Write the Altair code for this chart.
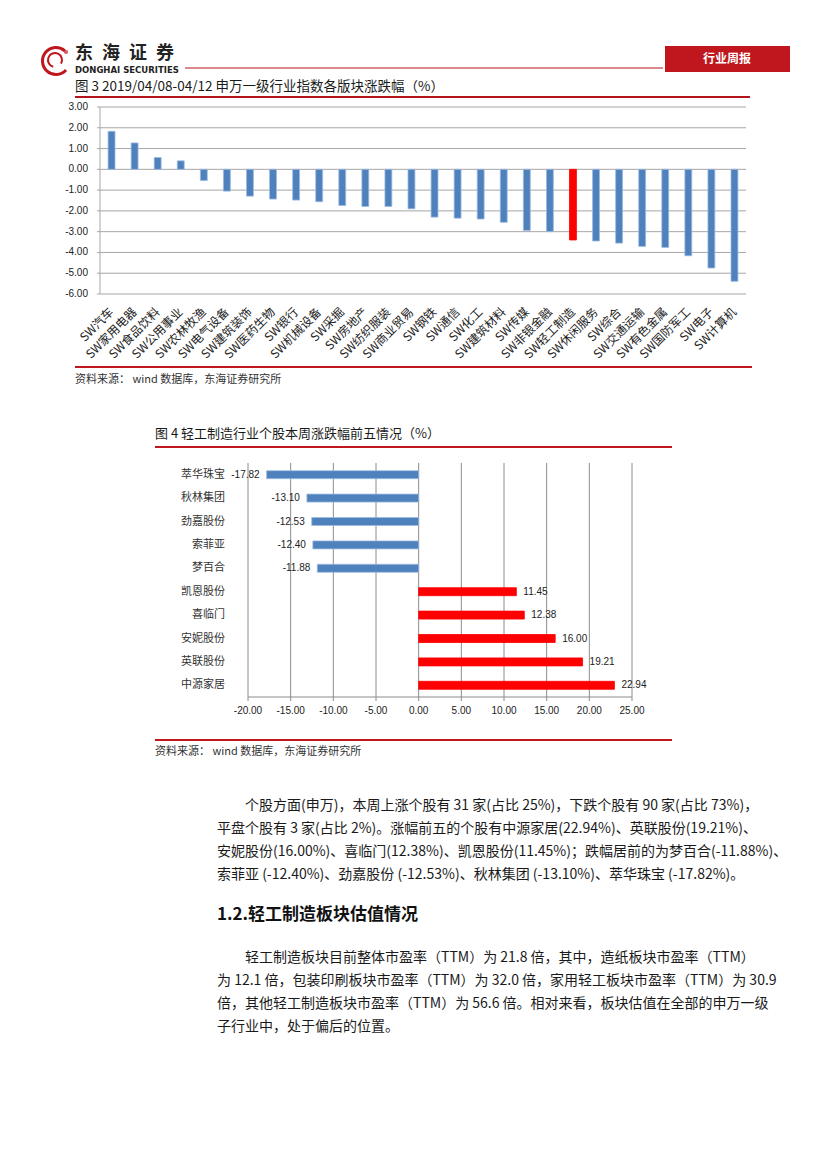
import altair as alt
import pandas as pd

CJK = "Noto Sans CJK SC"
LAT = "Liberation Sans"
BLUE = "#4f81bd"
BLUE_EDGE = "#9dbbe0"
RED = "#ff0000"
DARKRED = "#b3141b"
TXT = "#1a1a1a"
GRID1 = "#a6a6a6"
GRID2 = "#8c8c8c"

# ---------------- data ----------------
industries = ["SW汽车", "SW家用电器", "SW食品饮料", "SW公用事业", "SW农林牧渔", "SW电气设备",
              "SW建筑装饰", "SW医药生物", "SW银行", "SW机械设备", "SW采掘", "SW房地产",
              "SW纺织服装", "SW商业贸易", "SW钢铁", "SW通信", "SW化工", "SW建筑材料",
              "SW传媒", "SW非银金融", "SW轻工制造", "SW休闲服务", "SW综合", "SW交通运输",
              "SW有色金属", "SW国防军工", "SW电子", "SW计算机"]
industry_chg = [1.83, 1.27, 0.57, 0.41, -0.54, -1.05, -1.29, -1.43, -1.48, -1.56, -1.74, -1.79,
                -1.79, -1.90, -2.30, -2.35, -2.39, -2.55, -2.94, -3.00, -3.40, -3.45, -3.55,
                -3.71, -3.76, -4.16, -4.75, -5.39]
highlight_industry = "SW轻工制造"
y_ticks1 = [3, 2, 1, 0, -1, -2, -3, -4, -5, -6]

stocks = ["萃华珠宝", "秋林集团", "劲嘉股份", "索菲亚", "梦百合",
          "凯恩股份", "喜临门", "安妮股份", "英联股份", "中源家居"]
stock_chg = [-17.82, -13.10, -12.53, -12.40, -11.88, 11.45, 12.38, 16.00, 19.21, 22.94]
x_ticks2 = [-20, -15, -10, -5, 0, 5, 10, 15, 20, 25]

brand_cn = "东\u2002海\u2002证\u2002券"
brand_en = "DONGHAI SECURITIES"
badge = "行业周报"
caption3 = "图 3   2019/04/08-04/12 申万一级行业指数各版块涨跌幅（%）"
caption4 = "图 4    轻工制造行业个股本周涨跌幅前五情况（%）"
source_txt = "资料来源：   wind 数据库，东海证券研究所"
para1 = [
    "个股方面(申万)，本周上涨个股有 31 家(占比 25%)，下跌个股有 90 家(占比 73%)，",
    "平盘个股有 3 家(占比 2%)。涨幅前五的个股有中源家居(22.94%)、英联股份(19.21%)、",
    "安妮股份(16.00%)、喜临门(12.38%)、凯恩股份(11.45%)；跌幅居前的为梦百合(-11.88%)、",
    "索菲亚 (-12.40%)、劲嘉股份 (-12.53%)、秋林集团 (-13.10%)、萃华珠宝 (-17.82%)。",
]
heading = "1.2.轻工制造板块估值情况"
para2 = [
    "轻工制造板块目前整体市盈率（TTM）为 21.8 倍，其中，造纸板块市盈率（TTM）",
    "为 12.1 倍，包装印刷板块市盈率（TTM）为 32.0 倍，家用轻工板块市盈率（TTM）为 30.9",
    "倍，其他轻工制造板块市盈率（TTM）为 56.6 倍。相对来看，板块估值在全部的申万一级",
    "子行业中，处于偏后的位置。",
]

PAGE_W = 795
one = alt.Data(values=[{"k": 1}])


def txt(s, x, y, size=12, font=CJK, color=TXT, weight="normal", align="left",
        baseline="middle", **kw):
    return alt.Chart(one).mark_text(text=s, font=font, fontSize=size, color=color,
                                    fontWeight=weight, align=align, baseline=baseline,
                                    **kw).encode(x=alt.value(x), y=alt.value(y))


def hline(x1, x2, y, color=DARKRED, width=1.0):
    return alt.Chart(one).mark_rule(color=color, strokeWidth=width).encode(
        x=alt.value(x1), x2=alt.value(x2), y=alt.value(y))


def paragraph(lines, x, y0, indent=28, lh=23, size=14):
    out = []
    for i, s in enumerate(lines):
        out.append(txt(s, x + (indent if i == 0 else 0), y0 + i * lh, size=size))
    return out


# ---------------- panel A: header ----------------
logo_outer = alt.Chart(one).mark_arc(color="#c0161d", radius=15, radius2=12,
                                     theta=2.3, theta2=7.0).encode(
    x=alt.value(48), y=alt.value(53))
logo_inner = alt.Chart(one).mark_arc(color="#c0161d", radius=8, radius2=6,
                                     theta=3.4, theta2=8.4).encode(
    x=alt.value(47), y=alt.value(52))
logo_tail = alt.Chart(one).mark_point(shape="circle", filled=True, color="#c0161d",
                                      size=18).encode(x=alt.value(58), y=alt.value(44))
badge_box = alt.Chart(one).mark_rect(color="#c0161d").encode(
    x=alt.value(657), x2=alt.value(782), y=alt.value(38), y2=alt.value(64))
panelA = alt.layer(
    logo_outer, logo_inner, logo_tail,
    txt(brand_cn, 67, 46, size=18, weight="bold", color="#222222"),
    txt(brand_en, 67, 62, size=8.5, font="DejaVu Sans", weight="bold", color="#222222"),
    hline(177, 655, 60, color=DARKRED, width=1),
    badge_box,
    txt(badge, 719, 51, size=12, weight="bold", color="white", align="center"),
    txt(caption3, 67, 79, size=13.5),
    hline(67, 742, 89, color=DARKRED, width=2),
).properties(width=PAGE_W, height=99)

# ---------------- panel B: chart 1 (plot at x 92..738, height 187) ----------------
df1 = pd.DataFrame({"industry": industries, "chg": industry_chg})
df1["kind"] = ["hl" if i == highlight_industry else "normal" for i in industries]
dft1 = pd.DataFrame({"v": y_ticks1, "lbl": [f"{v:.2f}" for v in y_ticks1]})

xs1 = alt.Scale(domain=industries, range=[92, 738], paddingInner=0.7, paddingOuter=0.35)
ys1 = alt.Scale(domain=[-6, 3], nice=False, zero=False)

grid1 = alt.Chart(dft1).mark_rule(color=GRID1, strokeWidth=1).encode(
    y=alt.Y("v:Q", scale=ys1, axis=None), x=alt.value(89), x2=alt.value(738))
yaxis1 = alt.Chart(one).mark_rule(color=GRID1, strokeWidth=1).encode(
    x=alt.value(92), y=alt.value(0), y2=alt.value(187))
ylab1 = alt.Chart(dft1).mark_text(align="right", baseline="middle", font=LAT, fontSize=10,
                                  color="#222222").encode(
    y=alt.Y("v:Q", scale=ys1, axis=None), x=alt.value(80), text="lbl:N")
bars1 = alt.Chart(df1).mark_bar(strokeWidth=0.8).encode(
    x=alt.X("industry:N", scale=xs1, axis=None),
    y=alt.Y("chg:Q", scale=ys1, axis=None),
    color=alt.Color("kind:N", scale=alt.Scale(domain=["normal", "hl"], range=[BLUE, RED]),
                    legend=None),
    stroke=alt.Stroke("kind:N", scale=alt.Scale(domain=["normal", "hl"],
                                                range=[BLUE_EDGE, RED]), legend=None),
)
xlab1 = alt.Chart(df1).mark_text(angle=315, align="right", baseline="middle", font=CJK,
                                 fontSize=12, color="#222222").encode(
    x=alt.X("industry:N", scale=xs1, axis=None), y=alt.value(203), text="industry:N")
panelB = alt.layer(grid1, yaxis1, ylab1, bars1, xlab1).properties(width=PAGE_W, height=187)

# ---------------- panel C: source 1 + caption 4 ----------------
panelC = alt.layer(
    hline(67, 744, 73, color="#c0161d", width=2),
    txt(source_txt, 67, 86, size=11, color="#333333"),
    txt(caption4, 147, 140, size=13),
    hline(147, 664, 153, color="#c0161d", width=2),
).properties(width=PAGE_W, height=169)

# ---------------- panel D: chart 2 (plot at x 240..624, height 234) ----------------
df2 = pd.DataFrame({"stock": stocks, "chg": stock_chg})
df2["sign"] = ["neg" if v < 0 else "pos" for v in stock_chg]
df2["label"] = [f"{v:.2f}" for v in stock_chg]
dft2 = pd.DataFrame({"v": x_ticks2, "lbl": [f"{v:.2f}" for v in x_ticks2]})

xs2 = alt.Scale(domain=[-20, 25], range=[240, 624], nice=False, zero=False)
ys2 = alt.Scale(domain=stocks)

grid2 = alt.Chart(dft2).mark_rule(color=GRID2, strokeWidth=1).encode(
    x=alt.X("v:Q", scale=xs2, axis=None), y=alt.value(0), y2=alt.value(238))
xaxis2 = alt.Chart(one).mark_rule(color=GRID2, strokeWidth=1).encode(
    x=alt.value(240), x2=alt.value(624), y=alt.value(234))
xlab2 = alt.Chart(dft2).mark_text(align="center", baseline="middle", font=LAT, fontSize=10,
                                  color="#222222").encode(
    x=alt.X("v:Q", scale=xs2, axis=None), y=alt.value(248), text="lbl:N")
ylab2 = alt.Chart(df2).mark_text(align="right", baseline="middle", font=CJK, fontSize=11,
                                 color="#333333").encode(
    y=alt.Y("stock:N", scale=ys2, axis=None), x=alt.value(217), text="stock:N")
bars2 = alt.Chart(df2).mark_bar(size=8, strokeWidth=0.8).encode(
    y=alt.Y("stock:N", scale=ys2, axis=None),
    x=alt.X("chg:Q", scale=xs2, axis=None),
    x2=alt.datum(0),
    color=alt.Color("sign:N", scale=alt.Scale(domain=["neg", "pos"], range=[BLUE, RED]),
                    legend=None),
    stroke=alt.Stroke("sign:N", scale=alt.Scale(domain=["neg", "pos"],
                                                range=[BLUE_EDGE, RED]), legend=None),
)
neg_lbl = alt.Chart(df2).transform_filter("datum.chg < 0").mark_text(
    align="right", baseline="middle", dx=-7, font=LAT, fontSize=10, color="#222222").encode(
    y=alt.Y("stock:N", scale=ys2, axis=None), x=alt.X("chg:Q", scale=xs2, axis=None),
    text="label:N")
pos_lbl = alt.Chart(df2).transform_filter("datum.chg >= 0").mark_text(
    align="left", baseline="middle", dx=7, font=LAT, fontSize=10, color="#222222").encode(
    y=alt.Y("stock:N", scale=ys2, axis=None), x=alt.X("chg:Q", scale=xs2, axis=None),
    text="label:N")
panelD = alt.layer(grid2, xaxis2, xlab2, ylab2, bars2, neg_lbl, pos_lbl).properties(
    width=PAGE_W, height=234)

# ---------------- panel E: source 2 + text ----------------
panelE = alt.layer(
    hline(147, 664, 43, color="#c0161d", width=2),
    txt(source_txt, 147, 55, size=11, color="#333333"),
    *paragraph(para1, 209, 109),
    txt(heading, 209, 218, size=17, weight="bold", color="#111111"),
    *paragraph(para2, 209, 261),
).properties(width=PAGE_W, height=450)

chart = alt.vconcat(panelA, panelB, panelC, panelD, panelE, spacing=0, bounds="flush",
                    padding=0, background="white").configure_view(stroke=None)

chart.save("out.html", embed_options={"renderer": "svg", "actions": False})
